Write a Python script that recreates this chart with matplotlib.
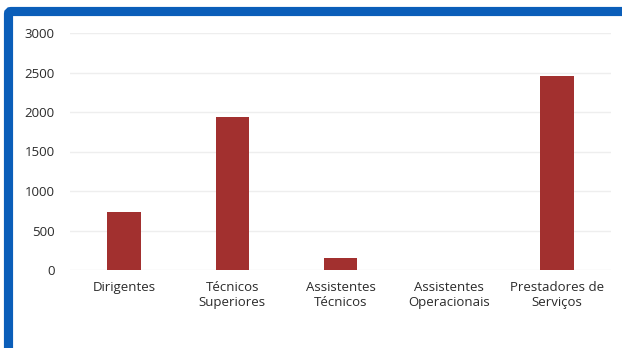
import matplotlib.pyplot as plt
from matplotlib.patches import FancyBboxPatch
from matplotlib.transforms import IdentityTransform

categories = ["Dirigentes", "Técnicos\nSuperiores", "Assistentes\nTécnicos",
              "Assistentes\nOperacionais", "Prestadores de\nServiços"]
values = [730, 1940, 150, 0, 2460]
yticks = [0, 500, 1000, 1500, 2000, 2500, 3000]

W, H = 622, 348
fig = plt.figure(figsize=(W / 100, H / 100), dpi=100)
fig.patch.set_facecolor("white")

# blue frame (top and left edges visible, small rounded corner), pixel coords
frame = FancyBboxPatch((8.5, -40), 700, H - 11.5 + 40,
                       boxstyle="round,pad=0,rounding_size=2.5",
                       transform=IdentityTransform(), facecolor="none",
                       edgecolor="#0B5EB9", linewidth=6.6, zorder=10)
frame.set_clip_on(False)
fig.patches.append(frame)

ax = fig.add_axes([70 / W, 78 / H, 541 / W, 237 / H])
x = range(len(categories))
ax.bar(x, values, width=0.31, color="#A2302F", zorder=3)

ax.set_ylim(0, 3000)
ax.set_xlim(-0.5, len(categories) - 0.5)
ax.set_yticks(yticks)
ax.set_yticklabels([str(t) for t in yticks])
ax.set_xticks(list(x))
ax.set_xticklabels(categories, linespacing=1.15)

for s in ax.spines.values():
    s.set_visible(False)
ax.grid(axis="y", color="#EEEEEE", linewidth=1.0, zorder=0)
ax.tick_params(axis="both", length=0, labelsize=9.5, colors="#2B2B2B")
ax.tick_params(axis="y", pad=11)
ax.tick_params(axis="x", pad=8)
for lbl in ax.get_xticklabels() + ax.get_yticklabels():
    lbl.set_fontfamily("Open Sans")

fig.savefig("out.png", dpi=100)
